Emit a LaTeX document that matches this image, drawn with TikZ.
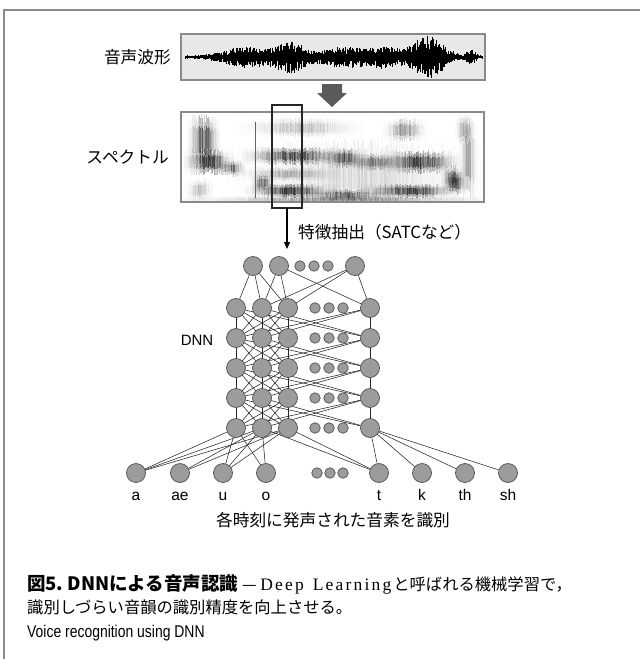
\documentclass[tikz,border=0pt]{standalone}
\usepackage{fontspec}
\setmainfont{Liberation Sans}
\newfontfamily\jp{Noto Sans CJK JP}
\newfontfamily\serifl{Liberation Serif}
\newfontfamily\narrowsans{Liberation Sans}[FakeStretch=0.82]
\usetikzlibrary{arrows.meta}
\pgfdeclarelayer{bg}\pgfsetlayers{bg,main}
\definecolor{nodefill}{HTML}{9C9C9C}
\definecolor{nodeline}{HTML}{505050}
\definecolor{boxline}{HTML}{8A8A8A}
\definecolor{wavefill}{HTML}{E8E8E8}
\definecolor{bigarrow}{HTML}{5A5A5A}
\definecolor{framegray}{HTML}{8C8C8C}
\newcommand\specblob[5]{%
  \pgfmathsetmacro{\bxa}{#1-1.8*#3}%
  \pgfmathtruncatemacro{\bn}{3.6*#3/1.0}%
  \foreach \k in {0,...,\bn}{%
    \pgfmathsetmacro{\bx}{\bxa+\k*1.0}%
    \pgfmathsetmacro{\bop}{min(1,#5*exp(-min(((\bx-#1)/#3)^2,20))*(0.45+0.65*rnd))}%
    \pgfmathsetmacro{\bt}{#4*(0.9+0.6*rnd)}%
    \pgfmathsetmacro{\bb}{#4*(0.9+0.6*rnd)}%
    \pgfmathsetmacro{\bopa}{0.45*\bop}%
    \pgfmathsetmacro{\bopb}{0.7*\bop}%
    \draw[specline, draw opacity=\bopa] (\bx,#2-\bt) -- (\bx,#2+\bb);
    \draw[specline, draw opacity=\bopb] (\bx,#2-0.55*\bt) -- (\bx,#2+0.55*\bb);
  }}
\newcommand\lsp{\kern2.2pt}
\tikzset{
  bignode/.style={circle, fill=nodefill, draw=nodeline, line width=0.7pt, minimum size=19pt, inner sep=0pt, outer sep=0pt},
  smallnode/.style={circle, fill=nodefill, draw=nodeline, line width=0.7pt, minimum size=10.5pt, inner sep=0pt, outer sep=0pt},
  conn/.style={draw=black!85, line width=0.55pt},
  wavebox/.style={draw=boxline, fill=wavefill, line width=1.1pt, inner sep=0pt, outer sep=0pt},
  specbox/.style={draw=boxline, fill=white, line width=1.1pt, inner sep=0pt, outer sep=0pt},
  selbox/.style={draw=black!85, line width=1.2pt, inner sep=0pt, outer sep=0pt},
  waveline/.style={draw=black, line width=0.5pt},
  specline/.style={draw=black, line width=1.0pt},
  jplabel/.style={font=\jp\fontsize{16.7}{19}\selectfont, inner sep=0pt},
  phone/.style={font=\fontsize{15.5}{18}\selectfont, inner sep=0pt, text height=11pt, text depth=3pt, anchor=center},
  caption/.style={inner sep=0pt, anchor=west},
}
\begin{document}
\begin{tikzpicture}[x=1pt, y=-1pt]
\useasboundingbox (0,0) rectangle (640,659);
\pgfmathsetseed{1234}
% frame
\draw[framegray, line width=1.5pt] (4,659) -- (4,10) -- (640,10);

% waveform
\node[wavebox, minimum width=304pt, minimum height=46pt] (wave) at (333,57) {};
\foreach \i in {0,...,480} {
  \pgfmathsetmacro{\xx}{185+\i*0.62}
  \pgfmathsetmacro{\env}{1.3+8*exp(-min(((\xx-245)/28)^2,20))+12*exp(-min(((\xx-290)/18)^2,20))+8*exp(-min(((\xx-345)/30)^2,20))+7*exp(-min(((\xx-385)/18)^2,20))+18*exp(-min(((\xx-428)/20)^2,20))+6*exp(-min(((\xx-471)/5)^2,20))}
  \pgfmathsetmacro{\up}{\env*(0.35+0.75*rnd)}
  \pgfmathsetmacro{\dn}{\env*(0.35+0.85*rnd)}
  \draw[waveline] (\xx,57-\up) -- (\xx,57+\dn);
}
\node[jplabel, anchor=east] (wlab) at (171,57) {音声波形};

% big gray arrow
\fill[bigarrow] (322,84) -- (342,84) -- (342,93) -- (347,93) -- (332,107) -- (317,93) -- (322,93) -- cycle;

% spectrogram
\node[specbox, minimum width=303pt, minimum height=90pt] (spec) at (332.5,157) {};
\begin{scope}
\clip (181.5,112.5) rectangle (483.5,201.5);
\specblob{204}{140}{9}{18}{0.75}
\specblob{210}{162}{14}{9}{0.85}
\specblob{232}{168}{8}{6}{0.6}
\specblob{200}{190}{8}{8}{0.25}
\specblob{300}{128}{35}{7}{0.25}
\specblob{405}{130}{12}{8}{0.45}
\specblob{464}{130}{5}{10}{0.4}
\specblob{295}{156}{30}{6}{0.8}
\specblob{345}{158}{12}{7}{0.65}
\specblob{375}{162}{18}{6}{0.45}
\specblob{420}{162}{22}{8}{0.85}
\specblob{452}{178}{6}{9}{0.6}
\specblob{290}{174}{30}{5}{0.3}
\specblob{290}{191}{25}{5}{0.9}
\specblob{262}{183}{6}{6}{0.7}
\specblob{345}{195}{25}{4}{0.65}
\specblob{410}{191}{28}{5}{0.85}
\specblob{455}{183}{7}{8}{0.6}
\specblob{340}{200}{90}{3}{0.45}
\specblob{468}{160}{5}{30}{0.35}
\specblob{360}{175}{70}{25}{0.15}
\draw[black!60, line width=0.7pt] (255,122) -- (255,198);
\end{scope}
\node[specbox, fill=none, minimum width=303pt, minimum height=90pt] (specb) at (332.5,157) {};
\node[jplabel, anchor=east] (slab) at (169,157) {スペクトル};

% selection window and arrow
\node[selbox, minimum width=30pt, minimum height=103pt] (sel) at (287,156.5) {};
\coordinate (feat) at (287,249);
\draw[black, line width=1.2pt, -{Triangle[length=7pt,width=6pt]}] (sel.south) -- (feat);
\node[jplabel, anchor=west] (flab) at (298,232) {特徴抽出（SATCなど）};

% input layer
\node[bignode] (i1) at (253,266) {};
\node[bignode] (i2) at (279,266) {};
\foreach \sx in {300,314,328} \node[smallnode] (is\sx) at (\sx,266) {};
\node[bignode] (i4) at (355,266) {};

% hidden layers
\foreach \l/\yy in {1/308,2/338,3/368,4/398,5/428} {
  \node[bignode] (h\l-1) at (236,\yy) {};
  \node[bignode] (h\l-2) at (262,\yy) {};
  \node[bignode] (h\l-3) at (288,\yy) {};
  \node[bignode] (h\l-4) at (370,\yy) {};
  \foreach \sx in {315,329,343} \node[smallnode] (h\l-s\sx) at (\sx,\yy) {};
}
\node[font=\fontsize{15}{18}\selectfont, inner sep=0pt] (dnn) at (197,340) {DNN};

% output layer
\foreach \n/\ox/\lab in {1/136/a,2/180/ae,3/223/u,4/266/o,5/379/t,6/422/k,7/465/th,8/508/sh} {
  \node[bignode] (o\n) at (\ox,473) {};
  \node[phone] (ol\n) at (\ox,496) {\lab};
}
\foreach \sx in {317,330,343} \node[smallnode] (os\sx) at (\sx,473) {};
\node[jplabel] (olab) at (333,520) {各時刻に発声された音素を識別};

% connections
\begin{pgfonlayer}{bg}
\foreach \b in {1,2,3} \draw[conn] (i1) -- (h1-\b);
\foreach \b in {2,3,4} \draw[conn] (i2) -- (h1-\b);
\foreach \b in {2,3,4} \draw[conn] (i4) -- (h1-\b);
\foreach \l [evaluate=\l as \m using int(\l+1)] in {1,...,4} {
  \foreach \a in {1,2,3} {\foreach \b in {1,2,3} {\draw[conn] (h\l-\a) -- (h\m-\b);}}
  \draw[conn] (h\l-4) -- (h\m-4);
  \foreach \a in {1,2} {\draw[conn] (h\l-\a) -- (h\m-4); \draw[conn] (h\l-4) -- (h\m-\a);}
}
\foreach \o in {1,3,4} \draw[conn] (h5-1) -- (o\o);
\foreach \o in {1,2,3,4,5} \draw[conn] (h5-2) -- (o\o);
\foreach \o in {1,2,3,5} \draw[conn] (h5-3) -- (o\o);
\foreach \o in {5,6,7,8} \draw[conn] (h5-4) -- (o\o);
\end{pgfonlayer}

% caption
\node[caption] (cap1) at (27,584) {{\jp\bfseries\fontsize{18.5}{21}\selectfont 図5.\ DNNによる音声認識}{\jp\fontsize{16.3}{20}\selectfont\ —\ }{\serifl\fontsize{17.5}{20}\selectfont D\lsp e\lsp e\lsp p\kern9pt L\lsp e\lsp a\lsp r\lsp n\lsp i\lsp n\lsp g\kern2pt}{\jp\fontsize{16.3}{20}\selectfont と呼ばれる機械学習で，}};
\node[caption] (cap2) at (27,607) {\jp\fontsize{16.3}{20}\selectfont 識別しづらい音韻の識別精度を向上させる。};
\node[caption] (cap3) at (27,633) {\narrowsans\fontsize{17}{19}\selectfont Voice recognition using DNN};
\end{tikzpicture}
\end{document}
